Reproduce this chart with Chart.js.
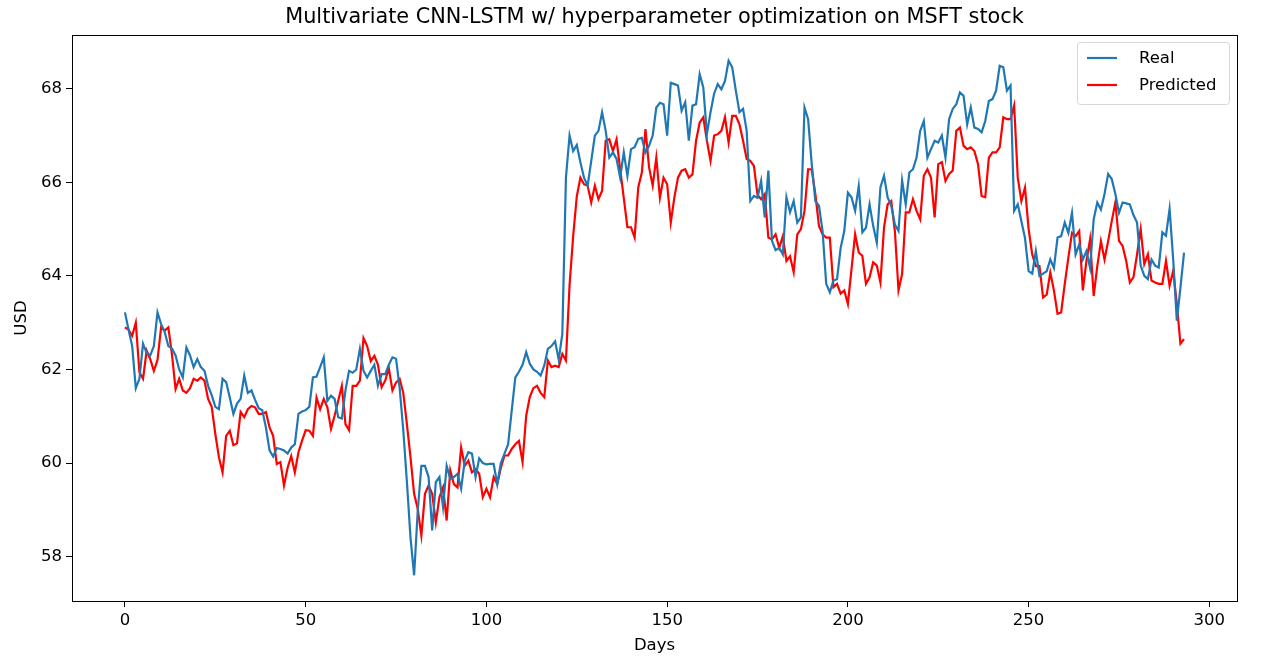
<!DOCTYPE html>
<html>
<head>
<meta charset="utf-8">
<script src="https://cdn.jsdelivr.net/npm/chart.js@4"></script>
<style>
  html, body { margin: 0; padding: 0; background: #fff; }
  #wrap { width: 1267px; height: 667px; }
</style>
</head>
<body>
<div id="wrap"><canvas id="chart" width="1267" height="667"></canvas></div>
<script>
// ------------- Data -------------
const realUsd = [
  63.22, 62.85, 62.5, 61.6, 61.8, 62.55, 62.35, 62.3, 62.5, 63.22,
  62.97, 62.8, 62.5, 62.45, 62.3, 62.0, 61.83, 62.47, 62.3, 62.05,
  62.22, 62.05, 61.97, 61.65, 61.45, 61.2, 61.15, 61.8, 61.73, 61.4,
  61.05, 61.27, 61.37, 61.87, 61.5, 61.55, 61.35, 61.17, 61.13, 60.76,
  60.27, 60.14, 60.32, 60.3, 60.27, 60.2, 60.33, 60.4, 61.05, 61.1,
  61.13, 61.2, 61.83, 61.85, 62.05, 62.26, 61.33, 61.44, 61.37, 60.98,
  60.95, 61.55, 61.97, 61.93, 62.0, 62.44, 61.97, 61.83, 61.97, 62.1,
  61.65, 61.9, 61.9, 62.1, 62.26, 62.23, 61.6, 60.7, 59.6, 58.4,
  57.6, 58.98, 59.94, 59.94, 59.7, 58.56, 59.59, 59.7, 59.06, 59.94,
  59.66, 59.7, 59.77, 59.45, 60.05, 60.23, 60.2, 59.7, 60.1, 60.0,
  59.97, 59.98, 59.98, 59.55, 60.0, 60.2, 60.4, 61.12, 61.83, 61.95,
  62.1, 62.37, 62.12, 62.0, 61.95, 61.87, 62.08, 62.44, 62.5, 62.6,
  62.21, 62.76, 66.1, 67.0, 66.67, 66.8, 66.43, 66.1, 65.93, 66.46,
  67.0, 67.1, 67.5, 67.1, 66.53, 66.64, 66.5, 66.1, 66.64, 66.14,
  66.71, 66.75, 66.93, 66.95, 66.64, 66.78, 67.0, 67.6, 67.7, 67.67,
  67.0, 68.13, 68.1, 68.07, 67.53, 67.71, 66.89, 67.64, 67.67, 68.31,
  68.03, 67.03, 67.5, 67.9, 68.1, 67.99, 68.17, 68.6, 68.46, 67.96,
  67.5, 67.57, 67.1, 65.6, 65.71, 65.67, 66.03, 65.25, 66.25, 64.75,
  64.55, 64.6, 64.46, 65.68, 65.36, 65.6, 65.14, 65.25, 67.6, 67.35,
  66.39, 65.6, 65.5, 64.96, 63.83, 63.65, 63.9, 63.93, 64.6, 64.96,
  65.78, 65.68, 65.39, 65.92, 64.93, 65.03, 65.53, 65.07, 64.71, 65.89,
  66.14, 65.68, 65.5, 65.1, 64.96, 66.04, 65.53, 66.21, 66.28, 66.53,
  67.1, 67.31, 66.53, 66.71, 66.89, 66.85, 67.0, 66.53, 67.35, 67.57,
  67.67, 67.92, 67.85, 67.24, 67.6, 67.17, 67.14, 67.07, 67.31, 67.74,
  67.78, 67.96, 68.49, 68.46, 67.96, 68.07, 65.39, 65.53, 65.17, 64.81,
  64.1, 64.05, 64.53, 64.0, 64.05, 64.1, 64.35, 64.17, 64.82, 64.85,
  65.14, 64.92, 65.35, 64.46, 64.67, 64.35, 64.53, 64.17, 65.21, 65.57,
  65.42, 65.75, 66.18, 66.07, 65.75, 65.35, 65.57, 65.55, 65.53, 65.3,
  65.14, 64.22, 64.0, 63.93, 64.35, 64.22, 64.18, 64.93, 64.86, 65.43,
  64.35, 63.04, 63.75, 64.5
];

const predictedUsd = [
  62.9, 62.85, 62.72, 63.0, 61.94, 61.8, 62.4, 62.22, 61.97, 62.2,
  62.9, 62.83, 62.9, 62.33, 61.58, 61.8, 61.55, 61.5, 61.6, 61.8,
  61.76, 61.83, 61.76, 61.37, 61.2, 60.62, 60.12, 59.8, 60.58, 60.69,
  60.38, 60.42, 61.09, 60.98, 61.15, 61.22, 61.19, 61.05, 61.05, 61.09,
  60.76, 60.58, 59.98, 60.02, 59.52, 59.9, 60.15, 59.8, 60.23, 60.48,
  60.7, 60.69, 60.58, 61.4, 61.15, 61.37, 61.19, 60.73, 61.01, 61.33,
  61.65, 60.83, 60.7, 61.65, 61.65, 61.76, 62.67, 62.5, 62.18, 62.29,
  62.1, 61.62, 61.76, 62.03, 61.55, 61.72, 61.8, 61.5, 60.83, 60.12,
  59.34, 59.02, 58.45, 59.34, 59.52, 59.34, 58.73, 59.27, 59.48, 58.77,
  59.84, 59.55, 59.48, 60.33, 59.94, 60.05, 59.8, 59.87, 59.77, 59.27,
  59.45, 59.27, 59.7, 59.55, 59.9, 60.16, 60.16, 60.3, 60.4, 60.47,
  60.02, 61.01, 61.41, 61.6, 61.65, 61.5, 61.41, 62.19, 62.05, 62.08,
  62.05, 62.33, 62.19, 63.8, 64.85, 65.7, 66.1, 65.96, 65.93, 65.57,
  65.93, 65.64, 65.82, 66.89, 66.92, 66.67, 66.92, 66.28, 65.67, 65.04,
  65.04, 64.82, 65.89, 66.21, 67.14, 66.32, 65.93, 66.53, 65.67, 66.1,
  65.96, 65.14, 65.68, 66.1, 66.25, 66.28, 66.1, 66.17, 66.89, 67.28,
  67.39, 66.89, 66.46, 67.0, 67.03, 67.1, 67.39, 66.85, 67.42, 67.42,
  67.24, 66.89, 66.5, 66.46, 66.35, 65.73, 65.64, 65.75, 64.82, 64.78,
  64.89, 64.6, 64.85, 64.32, 64.42, 64.08, 64.89, 65.0, 65.39, 66.28,
  66.28, 65.75, 65.07, 64.89, 64.82, 64.82, 63.76, 63.83, 63.62, 63.69,
  63.4, 64.14, 64.89, 64.5, 64.43, 63.83, 63.97, 64.29, 64.22, 63.86,
  65.04, 65.53, 65.6, 64.96, 63.69, 64.04, 65.36, 65.36, 65.64, 65.39,
  65.21, 66.14, 66.28, 66.1, 65.25, 66.39, 66.43, 66.03, 66.18, 66.25,
  67.1, 67.17, 66.78, 66.71, 66.75, 66.67, 66.39, 65.71, 65.68, 66.53,
  66.64, 66.64, 66.75, 67.39, 67.35, 67.35, 67.64, 66.1, 65.6, 65.89,
  65.0, 64.46, 64.21, 64.21, 63.54, 63.6, 64.07, 63.69, 63.19, 63.22,
  63.83, 64.39, 64.92, 64.85, 64.96, 63.69, 64.32, 64.78, 63.57, 64.21,
  64.74, 64.35, 64.74, 65.17, 65.57, 64.75, 64.64, 64.32, 63.86, 63.97,
  64.46, 65.0, 64.25, 64.46, 63.9, 63.86, 63.83, 63.83, 64.32, 63.79,
  64.11, 63.4, 62.55, 62.65
];

const xTicks = [0, 50, 100, 150, 200, 250, 300];
const yTicks = [58, 60, 62, 64, 66, 68];
const seriesNames = ['Real', 'Predicted'];
const seriesColors = ['#1f77b4', '#ff0000'];
const chartTitle = 'Multivariate CNN-LSTM w/ hyperparameter optimization on MSFT stock';

// ------------- Helpers -------------
const FONT = 'DejaVu Sans';
const TXT = 16.5; // tick / label / legend size
function toPoints(arr) { return arr.map((v, i) => ({ x: i, y: v })); }

// matplotlib-like frame, title over the axes, legend
const framePlugin = {
  id: 'frame',
  afterDraw(chart) {
    const { ctx, chartArea: a } = chart;
    ctx.save();
    ctx.strokeStyle = '#000';
    ctx.lineWidth = 1;
    ctx.strokeRect(Math.round(a.left) + 0.5, Math.round(a.top) + 0.5,
                   Math.round(a.right - a.left), Math.round(a.bottom - a.top));

    // title centred on the axes
    ctx.fillStyle = '#000';
    ctx.font = `20.8px "${FONT}"`;
    ctx.textAlign = 'center';
    ctx.textBaseline = 'middle';
    ctx.fillText(chartTitle, (a.left + a.right) / 2, 18);

    // legend (upper right, inside axes)
    const w = 152, h = 62;
    const x0 = a.right - 8 - w, y0 = a.top + 7;
    ctx.fillStyle = 'rgba(255,255,255,0.8)';
    ctx.strokeStyle = '#d6d6d6';
    ctx.beginPath();
    ctx.roundRect(x0 + 0.5, y0 + 0.5, w, h, 3);
    ctx.fill();
    ctx.stroke();
    ctx.font = `${TXT}px "${FONT}"`;
    ctx.textAlign = 'left';
    seriesNames.forEach((name, i) => {
      const yy = y0 + 16 + i * 27;
      ctx.strokeStyle = seriesColors[i];
      ctx.lineWidth = 2.2;
      ctx.beginPath();
      ctx.moveTo(x0 + 10, yy);
      ctx.lineTo(x0 + 40, yy);
      ctx.stroke();
      ctx.fillStyle = '#000';
      ctx.fillText(name, x0 + 62, yy + 1);
    });
    ctx.restore();
  }
};

// ------------- Chart -------------
new Chart(document.getElementById('chart'), {
  type: 'line',
  data: {
    datasets: [
      { label: seriesNames[0], data: toPoints(realUsd), borderColor: seriesColors[0], borderWidth: 2.2, pointRadius: 0, tension: 0 },
      { label: seriesNames[1], data: toPoints(predictedUsd), borderColor: seriesColors[1], borderWidth: 2.2, pointRadius: 0, tension: 0 }
    ]
  },
  options: {
    animation: false,
    responsive: false,
    devicePixelRatio: 1,
    layout: { padding: { left: 0, right: 30, top: 35, bottom: 0 } },
    plugins: {
      legend: { display: false },
      tooltip: { enabled: false },
      title: { display: false }
    },
    scales: {
      x: {
        type: 'linear',
        min: -14.65,
        max: 307.65,
        afterBuildTicks: s => { s.ticks = xTicks.map(v => ({ value: v })); },
        afterFit: s => { s.height = 66; },
        ticks: { color: '#000', padding: 4, maxRotation: 0, font: { family: FONT, size: TXT } },
        grid: { drawOnChartArea: false, drawTicks: true, tickLength: 6, tickColor: '#000', color: '#000' },
        border: { display: false },
        title: { display: true, text: 'Days', color: '#000', padding: { top: 0, bottom: 11 }, font: { family: FONT, size: TXT } }
      },
      y: {
        type: 'linear',
        min: 57.05,
        max: 69.15,
        afterBuildTicks: s => { s.ticks = yTicks.map(v => ({ value: v })); },
        afterFit: s => { s.width = 72; },
        ticks: { color: '#000', padding: 4, font: { family: FONT, size: TXT } },
        grid: { drawOnChartArea: false, drawTicks: true, tickLength: 6, tickColor: '#000', color: '#000' },
        border: { display: false },
        title: { display: true, text: 'USD', color: '#000', padding: { top: 12, bottom: 0 }, font: { family: FONT, size: TXT } }
      }
    }
  },
  plugins: [framePlugin]
});
</script>
</body>
</html>
